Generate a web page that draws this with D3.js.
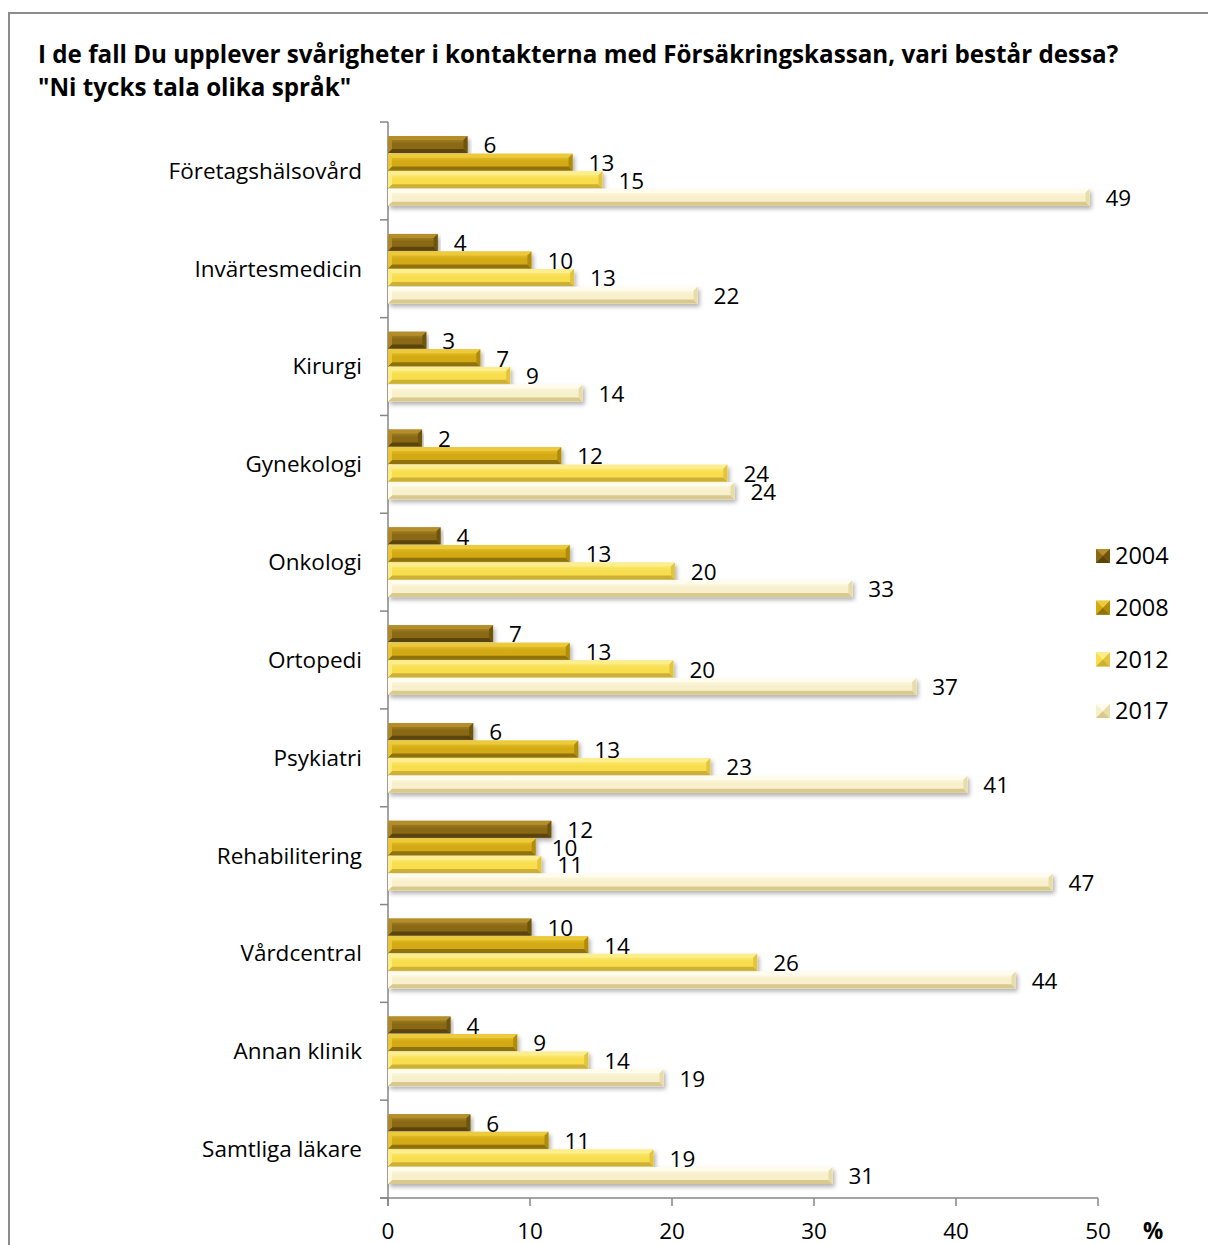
<!DOCTYPE html>
<html>
<head>
<meta charset="utf-8">
<script src="https://cdn.jsdelivr.net/npm/d3@7"></script>
<style>
  body { margin: 0; background: #fff; }
  svg { display: block; font-family: "Open Sans", Lato, sans-serif; }
</style>
</head>
<body>
<div id="chart"></div>
<script>
var categories = ["Företagshälsovård", "Invärtesmedicin", "Kirurgi", "Gynekologi", "Onkologi",
    "Ortopedi", "Psykiatri", "Rehabilitering", "Vårdcentral", "Annan klinik", "Samtliga läkare"];
var years = ["2004", "2008", "2012", "2017"];
var v2004 = [5.6, 3.5, 2.7, 2.4, 3.7, 7.4, 6.0, 11.5, 10.1, 4.4, 5.8];
var v2008 = [13.0, 10.1, 6.5, 12.2, 12.8, 12.8, 13.4, 10.4, 14.1, 9.1, 11.3];
var v2012 = [15.1, 13.1, 8.6, 23.9, 20.2, 20.1, 22.7, 10.8, 26.0, 14.1, 18.7];
var v2017 = [49.4, 21.8, 13.7, 24.4, 32.7, 37.2, 40.8, 46.8, 44.2, 19.4, 31.3];
var xTicks = [0, 10, 20, 30, 40, 50];

var titleLines = ["I de fall Du upplever svårigheter i kontakterna med Försäkringskassan, vari består dessa?",
    "\"Ni tycks tala olika språk\""];

var series = [v2004, v2008, v2012, v2017];

// colour sets per year: main, light (top bevel), dark (bottom bevel), end cap
var palette = {
    "2004": { main: "#8a6915", light: "#b48e2c", dark: "#5b4409", end: "#6e5410" },
    "2008": { main: "#d3aa12", light: "#ecca3a", dark: "#8f720a", end: "#b08c0c" },
    "2012": { main: "#f8de4e", light: "#fcee8c", dark: "#cdb034", end: "#e2c43e" },
    "2017": { main: "#f8f0cc", light: "#fffcee", dark: "#d9c98c", end: "#e8dca8" }
};

var W = 1208, H = 1245;
var fs = "22.5px";
var svg = d3.select("#chart").append("svg").attr("width", W).attr("height", H);

var defs = svg.append("defs");
var shadow = defs.append("filter").attr("id", "shadow")
    .attr("x", "-5%").attr("y", "-50%").attr("width", "110%").attr("height", "250%");
shadow.append("feDropShadow").attr("dx", 2).attr("dy", 3).attr("stdDeviation", 2)
    .attr("flood-color", "#000").attr("flood-opacity", 0.3);

years.forEach(function (yr) {
    var p = palette[yr];
    var g = defs.append("linearGradient").attr("id", "grad" + yr)
        .attr("x1", 0).attr("y1", 0).attr("x2", 0).attr("y2", 1);
    g.append("stop").attr("offset", "0%").attr("stop-color", p.light);
    g.append("stop").attr("offset", "45%").attr("stop-color", p.main);
    g.append("stop").attr("offset", "100%").attr("stop-color", p.main);
});

// outer frame
svg.append("rect").attr("x", 9).attr("y", 13).attr("width", 1220).attr("height", 1260)
    .attr("fill", "none").attr("stroke", "#8c8c8c").attr("stroke-width", 2);

// title
svg.append("g").selectAll("text").data(titleLines).join("text")
    .attr("x", 38).attr("y", function (d, i) { return 63 + i * 33; })
    .style("font-size", "24.2px").style("font-weight", "bold").attr("fill", "#000")
    .text(function (d) { return d; });

var x = d3.scaleLinear().domain([0, 50]).range([388, 1098]);
var y = d3.scaleBand().domain(categories).range([122, 1198]).paddingInner(0).paddingOuter(0);
var y1 = d3.scaleBand().domain(years).range([0, y.bandwidth()]).paddingInner(0.04).paddingOuter(0.8);

// y axis
var axisColor = "#868686";
svg.append("line").attr("x1", 388).attr("x2", 388).attr("y1", 122).attr("y2", 1206)
    .attr("stroke", axisColor).attr("stroke-width", 1.5);
var yTickPos = categories.map(function (c) { return y(c); }).concat([y.range()[1]]);
svg.append("g").selectAll("line").data(yTickPos).join("line")
    .attr("x1", 380).attr("x2", 388).attr("y1", function (d) { return d; }).attr("y2", function (d) { return d; })
    .attr("stroke", axisColor).attr("stroke-width", 1.5);

svg.append("g").selectAll("text").data(categories).join("text")
    .attr("x", 362).attr("y", function (d) { return y(d) + y.bandwidth() / 2; })
    .attr("dy", "0.35em").attr("text-anchor", "end")
    .style("font-size", fs).attr("fill", "#000")
    .text(function (d) { return d; });

// x axis
svg.append("line").attr("x1", 380).attr("x2", x(50)).attr("y1", 1198).attr("y2", 1198)
    .attr("stroke", axisColor).attr("stroke-width", 1.5);
svg.append("g").selectAll("line").data(xTicks).join("line")
    .attr("x1", function (d) { return x(d); }).attr("x2", function (d) { return x(d); })
    .attr("y1", 1198).attr("y2", 1206)
    .attr("stroke", axisColor).attr("stroke-width", 1.5);
svg.append("g").selectAll("text").data(xTicks).join("text")
    .attr("x", function (d) { return x(d); }).attr("y", 1231).attr("dy", "0.35em")
    .attr("text-anchor", "middle").style("font-size", fs).attr("fill", "#000")
    .text(function (d) { return d; });
svg.append("text").attr("x", 1143).attr("y", 1231).attr("dy", "0.35em")
    .style("font-size", fs).style("font-weight", "bold").text("%");

// bevelled bar drawing
function bevelBar(g, x0, x1, yTop, h, yr) {
    var p = palette[yr];
    var b = Math.min(4, (x1 - x0) / 2);
    var yb = yTop + h;
    var wrap = g.append("g").attr("filter", "url(#shadow)");
    wrap.append("rect").attr("x", x0).attr("y", yTop).attr("width", x1 - x0).attr("height", h)
        .attr("fill", "url(#grad" + yr + ")");
    wrap.append("polygon").attr("points", [[x0, yTop], [x1, yTop], [x1 - b, yTop + b], [x0 + b, yTop + b]].join(" "))
        .attr("fill", p.light);
    wrap.append("polygon").attr("points", [[x0, yb], [x1, yb], [x1 - b, yb - b], [x0 + b, yb - b]].join(" "))
        .attr("fill", p.dark);
    wrap.append("polygon").attr("points", [[x1, yTop], [x1, yb], [x1 - b, yb - b], [x1 - b, yTop + b]].join(" "))
        .attr("fill", p.end);
    wrap.append("polygon").attr("points", [[x0, yTop], [x0 + b, yTop + b], [x0 + b, yb - b], [x0, yb]].join(" "))
        .attr("fill", p.light).attr("opacity", 0.8);
}

var fmt = d3.format(".0f");
var bars = svg.append("g");
var labels = svg.append("g");
categories.forEach(function (c, ci) {
    years.forEach(function (yr, si) {
        var val = series[si][ci];
        var yTop = y(c) + y1(yr);
        bevelBar(bars, x(0), x(val), yTop, y1.bandwidth(), yr);
        labels.append("text")
            .attr("x", x(val) + 16).attr("y", yTop + y1.bandwidth() / 2 + 1).attr("dy", "0.35em")
            .style("font-size", fs).attr("fill", "#000")
            .text(fmt(val));
    });
});

// legend
var legend = svg.append("g").attr("transform", "translate(1096,556)");
years.forEach(function (yr, i) {
    var gy = i * 51.7;
    var p = palette[yr];
    var s = 14, t = gy - s / 2;
    var lg = legend.append("g");
    lg.append("rect").attr("x", 0).attr("y", t).attr("width", s).attr("height", s).attr("fill", p.main);
    lg.append("polygon").attr("points", [[0, t], [s, t], [s / 2, t + s / 2]].join(" ")).attr("fill", p.light);
    lg.append("polygon").attr("points", [[0, t + s], [s, t + s], [s / 2, t + s / 2]].join(" ")).attr("fill", p.dark);
    lg.append("polygon").attr("points", [[s, t], [s, t + s], [s / 2, t + s / 2]].join(" ")).attr("fill", p.end);
    legend.append("text").attr("x", 19).attr("y", gy).attr("dy", "0.35em")
        .style("font-size", "23.5px").text(yr);
});
</script>
</body>
</html>
